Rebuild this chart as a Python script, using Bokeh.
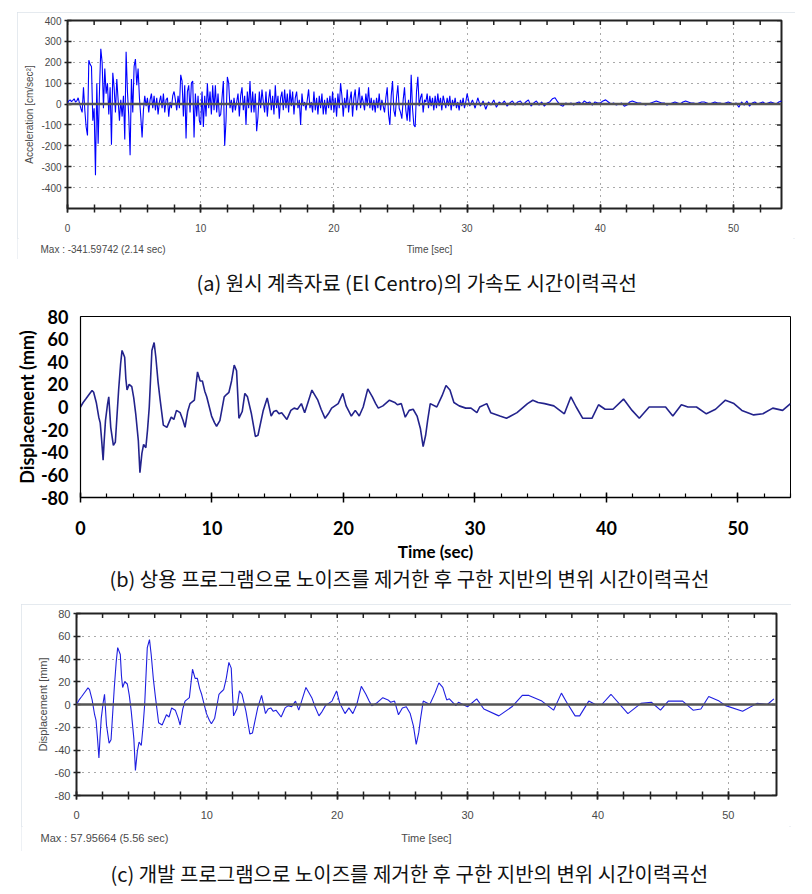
import numpy as np
from bokeh.plotting import figure
from bokeh.models import FixedTicker, Span, Range1d, Spacer
from bokeh.layouts import column, row
from bokeh.embed import file_html
from bokeh.resources import INLINE
from bokeh.core.properties import value

# ---------------- data ----------------
# (a) acceleration [cm/sec^2], 0-30 s sampled every 0.1 s
acc_dt_early = 0.1
acc_early = [
    5, 15, 20, 12, 18, 25, 10, 15, 30, 5,
    -20, -40, 80, -30, -110, -150, 210, 190, 180, -80,
    -20, -341, 100, -190, 60, 265, 200, -20, 170, 50,
    100, -50, 80, -195, 150, 80, -40, 120, 20, -80,
    20, -60, 40, -170, 250, 60, -60, -245, 120, -40,
    180, 215, 90, 170, 30, -60, -160, -30, 40, -10,
    30, -40, 20, 50, -20, 40, -30, 30, -50, 10,
    40, -20, 50, -40, 20, 30, -60, 10, -20, 40,
    60, 20, -30, 40, -20, 140, 110, -60, 90, -165,
    60, 90, -40, 100, 110, -160, 50, -60, 40, -80,
    -100, 60, -110, 40, -60, 100, -20, 60, -50, 90,
    -30, 90, -40, 50, -60, -50, 30, 110, -200, -80,
    130, 100, -20, 20, -40, 30, -30, 10, 50, -60,
    40, 80, -30, 40, -100, 60, -20, 110, -40, 60,
    -40, 50, -130, -60, 60, -20, 70, 10, -40, 60,
    -60, 20, 70, -30, 40, -50, 90, -20, 40, -70,
    30, 60, -30, 70, -20, 50, -40, 70, -10, 60,
    -50, 30, 60, -20, 20, -100, 50, -10, 10, -30,
    20, 70, -20, 10, -40, 60, -30, 30, -50, 40,
    -20, 50, -50, 20, -50, 30, -20, 40, -30, 60,
    -40, 30, -60, 50, -20, 100, 40, -60, 30, -20,
    70, -40, 20, 60, -60, 30, 70, -30, 20, 80,
    -20, 40, 10, -30, 50, -10, 80, -20, 30, -30,
    20, -40, 30, -20, 50, -30, 20, -10, -40, 30,
    80, -50, -100, 40, 110, -30, -60, 30, 90, -20,
    -40, -70, 20, 80, -30, -80, 20, -85, 140, -20,
    -100, -110, 60, 130, -10, 30, 50, -40, 20, 10,
    50, -20, 40, -10, 30, -30, 40, -20, 50, -10,
    30, -30, 40, 10, -20, 30, -10, 40, -30, 20,
    -10, 30, -20, 10, -30, 20, -10, 30, -20, 10,
]
# 30-54 s sampled every 0.2 s
acc_start_late = 30.0
acc_dt_late = 0.2
acc_late = [
    50, -10, 20, -20, 30, -10, 15, -25, 10, -5,
    20, -15, 10, 0, 15, -10, 5, 15, -5, 10,
    15, -5, 10, 20, -10, 5, 15, -5, 10, -10,
    5, 10, 25, 30, 10, -5, -10, 5, 0, 5,
    -5, 5, 10, 0, 15, 5, 10, -5, 10, 5,
    5, 15, 20, 10, 0, 5, -5, 0, 5, -10,
    -5, 10, 15, 10, 5, 5, 0, -5, 0, 5,
    10, 15, 10, 5, 5, -5, 0, 5, 10, 5,
    0, 10, 15, 10, 5, 5, 0, 5, 10, 10,
    5, 0, 5, 10, 5, 5, 0, 5, 10, 5,
    0, 5, -15, 10, -5, 15, -10, 5, 10, 0,
    5, 10, 0, 5, 10, 5, 0, 10, 15, 10, 5,
]

# displacement [mm] common early part (0-28.4 s)
disp_early_t = [0, 0.2, 0.4, 0.65, 0.88, 1.0, 1.2, 1.39, 1.5, 1.6, 1.72, 1.8, 1.9, 2.05, 2.15,
                2.3, 2.5, 2.65, 2.9, 3.05, 3.16, 3.36, 3.45, 3.54, 3.7, 3.9, 4.05, 4.2, 4.4,
                4.52, 4.67, 4.8, 4.97, 5.1, 5.23, 5.43, 5.6, 5.73, 5.9, 6.06, 6.3, 6.57, 6.9,
                7.1, 7.3, 7.58, 7.8, 7.95, 8.15, 8.33, 8.66, 8.9, 9.1, 9.27, 9.45, 9.6, 9.97,
                10.2, 10.35, 10.6, 10.93, 11.1, 11.29, 11.49, 11.69, 11.87, 12.05, 12.3,
                12.5, 12.7, 13.0, 13.3, 13.5, 13.9, 14.2, 14.5, 14.7, 14.9, 15.1, 15.3,
                15.7, 16.0, 16.25, 16.5, 16.8, 17.05, 17.3, 17.6, 17.8, 18.05, 18.3, 18.6,
                18.85, 19.1, 19.6, 19.95, 20.2, 20.6, 20.9, 21.2, 21.5, 21.85, 22.2, 22.45,
                22.65, 23.0, 23.5, 23.9, 24.1, 24.4, 24.7, 25.0, 25.3, 25.6, 25.85, 26.06,
                26.25, 26.4, 26.6, 27.1, 27.5, 27.8, 28.1, 28.4]
disp_early_v = [0, 4, 7, 11, 14.6, 13, 4, -9, -14, -28, -47, -30, -12, 2, 9,
                -18, -34, -31, 15, 38, 50, 44, 25, 15, 20, 18, 8, -6, -30,
                -58, -41, -33, -36, -20, 0, 50, 57, 44, 22, 6, -16, -18, -9,
                -11, -3, -5, -12, -18, -4, 3, 6, 31, 23, 23, 14, 9, -8,
                -14, -17, -12, 9, 11, 13, 23, 37, 32, -10, -4,
                12, 9, -6, -26, -25, -3, 8, -8, -4, -3, -6, -5,
                -11, -3, -1, -2, 3, -5, 4, 15, 11, 6, -2, -10,
                -6, -1, 3, 12, 1, -8, -3, -8, 0, 16, 9, 3,
                -1, 1, 6, 4, 2, 3, -9, -3, -2, -8, -19, -35,
                -25, -12, 3, 0, 10, 19, 15, 4]

# (b) commercial program, later part
disp_b_late_t = [28.8, 29.3, 29.7, 30.15, 30.36, 30.9, 31.2, 31.9, 32.4, 33.2, 34.0, 34.4,
                 34.8, 35.3, 36.0, 36.8, 37.3, 37.7, 38.2, 38.9, 39.4, 39.9, 40.5, 41.3,
                 41.95, 42.5, 43.25, 43.8, 44.5, 45.05, 45.7, 46.2, 46.85, 47.6, 48.3,
                 49.05, 49.7, 50.3, 51.2, 51.9, 52.65, 53.4, 54.0]
disp_b_late_v = [1, -1, -1, -5, 0, 3, -5, -8, -10, -5, 3, 6,
                 4, 3, 1, -6, 9, 0, -10, -10, 2, -2, -2, 7,
                 -3, -10, 0, 0, 0, -8, 2, 0, 0, -6, -2,
                 6, 3, -3, -7, -6, -1, -3, 3]

# (c) developed program, later part
disp_c_late_t = [28.6, 29.1, 29.3, 30.0, 30.7, 31.25, 32.4, 33.4, 34.2, 34.7, 35.7, 36.6,
                 37.2, 37.6, 38.25, 38.6, 39.3, 39.8, 40.3, 41.0, 42.3, 43.3, 44.1, 44.8,
                 45.4, 46.5, 47.3, 47.9, 48.5, 49.3, 49.8, 51.1, 52.2, 53.0, 53.5]
disp_c_late_v = [5, -1, 2, -2, 5, -4, -10, -2, 8, 8, 3, -5,
                 10, 2, -10, -10, 3, 0, 0, 9, -8, 1, 2, -5,
                 3, 3, -5, -4, 7, 3, -1, -6, 1, 0, 5]

x_ticks_major = [0, 10, 20, 30, 40, 50]
x_ticks_minor = list(range(0, 55, 2))
acc_ticks = [-400, -300, -200, -100, 0, 100, 200, 300, 400]
disp_ticks = [-80, -60, -40, -20, 0, 20, 40, 60, 80]

max_a = "Max : -341.59742 (2.14 sec)"
max_c = "Max : 57.95664 (5.56 sec)"
time_label_soft = "Time [sec]"
cap_a = "(a) 원시 계측자료 (El Centro)의 가속도 시간이력곡선"
cap_b = "(b) 상용 프로그램으로 노이즈를 제거한 후 구한 지반의 변위 시간이력곡선"
cap_c = "(c) 개발 프로그램으로 노이즈를 제거한 후 구한 지반의 변위 시간이력곡선"

acc_t = np.concatenate([np.arange(len(acc_early)) * acc_dt_early,
                        acc_start_late + np.arange(len(acc_late)) * acc_dt_late])
acc_v = np.array(acc_early + acc_late, dtype=float)

# ---------------- helpers ----------------
SOFT_FONT = "Liberation Sans"
SOFT_COL = "#4a4a4a"


def soft_panel(width, height, xmax, ymin, ymax, yticks, grid_y, ylabel,
               bl, br, bt, bb, fs, line_t, line_v, line_col):
    p = figure(width=width, height=height, x_range=Range1d(0, xmax), y_range=Range1d(ymin, ymax),
               output_backend="svg", toolbar_location=None,
               min_border_left=bl, min_border_right=br, min_border_top=bt, min_border_bottom=bb)
    p.outline_line_color = "#222222"
    p.outline_line_width = 2
    p.background_fill_color = "white"
    p.border_fill_color = "white"

    xa = p.xaxis[0]
    xa.ticker = FixedTicker(ticks=x_ticks_major, minor_ticks=x_ticks_minor)
    xa.axis_line_color = None
    xa.major_tick_in = 4
    xa.major_tick_out = 4
    xa.minor_tick_in = 4
    xa.minor_tick_out = 4
    xa.major_tick_line_color = "#222222"
    xa.minor_tick_line_color = "#222222"
    xa.major_tick_line_width = 1.5
    xa.minor_tick_line_width = 1.5
    xa.major_label_standoff = 11
    xa.major_label_text_font = SOFT_FONT
    xa.major_label_text_font_size = fs
    xa.major_label_text_color = SOFT_COL

    ya = p.yaxis[0]
    ya.ticker = FixedTicker(ticks=yticks)
    ya.major_label_overrides = {t: str(t) for t in yticks}
    ya.axis_line_color = None
    ya.major_tick_in = 4
    ya.major_tick_out = 3
    ya.minor_tick_in = 0
    ya.minor_tick_out = 0
    ya.major_tick_line_color = "#222222"
    ya.major_tick_line_width = 1.5
    ya.major_label_standoff = 3
    ya.major_label_text_font = SOFT_FONT
    ya.major_label_text_font_size = fs
    ya.major_label_text_color = SOFT_COL
    ya.axis_label = ylabel
    ya.axis_label_text_font = SOFT_FONT
    ya.axis_label_text_font_size = fs
    ya.axis_label_text_font_style = "normal"
    ya.axis_label_text_color = SOFT_COL
    ya.axis_label_standoff = 3

    # inward ticks along the top and right edges of the frame
    p.scatter(x_ticks_minor, [ymax] * len(x_ticks_minor), marker="dash", angle=np.pi / 2,
              size=9, line_color="#222222", line_width=1.5)
    p.scatter([xmax] * len(yticks), yticks, marker="dash", size=9,
              line_color="#222222", line_width=1.5)

    p.xgrid.ticker = FixedTicker(ticks=x_ticks_major[1:])
    p.ygrid.ticker = FixedTicker(ticks=grid_y)
    for g in (p.xgrid[0], p.ygrid[0]):
        g.grid_line_color = "#555555"
        g.grid_line_dash = "1 5"
        g.grid_line_width = 1

    p.add_layout(Span(location=0, dimension="width", line_color="#555555", line_width=2.5))
    p.line(line_t, line_v, line_color=line_col, line_width=1.1)
    return p


def footer(width, height, maxtext, max_x, time_x, ty, fs):
    f = figure(width=width, height=height, x_range=Range1d(0, width), y_range=Range1d(0, height),
               output_backend="svg", toolbar_location=None, x_axis_type=None, y_axis_type=None,
               min_border=0, outline_line_color=None)
    f.grid.visible = False
    f.text(x=[max_x], y=[ty], text=[maxtext], text_font=value(SOFT_FONT), text_font_size=fs,
           text_align="left", text_baseline="middle", text_color=SOFT_COL)
    f.text(x=[time_x], y=[ty], text=[time_label_soft], text_font=value(SOFT_FONT),
           text_font_size=fs, text_align="center", text_baseline="middle", text_color=SOFT_COL)
    # wrap in a row so its frame is not aligned with the plot above
    return row(f)


def caption(text, height, left, cy):
    c = figure(width=804, height=height, x_range=Range1d(0, 804), y_range=Range1d(0, height),
               output_backend="svg", toolbar_location=None, x_axis_type=None, y_axis_type=None,
               min_border=0, outline_line_color=None)
    c.grid.visible = False
    c.text(x=[left], y=[cy], text=[text], text_font=value("Noto Sans CJK KR"),
           text_font_size="20px", text_align="left", text_baseline="middle", text_color="#111111")
    return c


BOX = {"outline": "2px solid #dde3ea", "outline-offset": "-2px", "background-color": "white"}

# ---------------- panel (a) ----------------
pa = soft_panel(778, 226, 53.6, -500, 400, acc_ticks, [-400, -300, -200, -100, 100, 200, 300],
                "Acceleration [cm/sec²]", 50, 14, 8, 30, "10px", acc_t, acc_v, "#0000ff")
fa = footer(778, 21, max_a, 23, 412, 10, "10px")
panel_a = column(pa, fa, styles=BOX)

# ---------------- panel (b) ----------------
pb = figure(width=796, height=265, x_range=Range1d(0, 54), y_range=Range1d(-80, 80),
            output_backend="svg", toolbar_location=None,
            min_border_left=72, min_border_right=14, min_border_top=16, min_border_bottom=68)
pb.outline_line_color = "black"
pb.outline_line_width = 1
pb.grid.visible = False
XF = "Lato"
xb = pb.xaxis[0]
xb.ticker = FixedTicker(ticks=x_ticks_major, minor_ticks=x_ticks_minor)
xb.axis_line_color = "black"
xb.axis_line_width = 1.5
xb.major_tick_in = 5
xb.major_tick_out = 5
xb.minor_tick_in = 4
xb.minor_tick_out = 0
xb.major_tick_line_color = "black"
xb.minor_tick_line_color = "black"
xb.major_tick_line_width = 1.5
xb.minor_tick_line_width = 1.2
xb.major_label_standoff = 18
xb.major_label_text_font = XF
xb.major_label_text_font_style = "bold"
xb.major_label_text_font_size = "18px"
xb.major_label_text_color = "black"
xb.axis_label = "Time (sec)"
xb.axis_label_text_font = XF
xb.axis_label_text_font_style = "bold"
xb.axis_label_text_font_size = "17px"
xb.axis_label_text_color = "black"
xb.axis_label_standoff = 3
yb = pb.yaxis[0]
yb.ticker = FixedTicker(ticks=disp_ticks)
yb.major_label_overrides = {t: str(t) for t in disp_ticks}
yb.axis_line_color = "black"
yb.axis_line_width = 1.2
yb.major_tick_in = 0
yb.major_tick_out = 0
yb.minor_tick_in = 0
yb.minor_tick_out = 0
yb.major_label_standoff = 12
yb.major_label_text_font = XF
yb.major_label_text_font_style = "bold"
yb.major_label_text_font_size = "18px"
yb.major_label_text_color = "black"
yb.axis_label = "Displacement (mm)"
yb.axis_label_text_font = XF
yb.axis_label_text_font_style = "bold"
yb.axis_label_text_font_size = "18px"
yb.axis_label_text_color = "black"
yb.axis_label_standoff = 0
pb.line(disp_early_t + disp_b_late_t, disp_early_v + disp_b_late_v,
        line_color="#23238c", line_width=1.6)

# ---------------- panel (c) ----------------
pc = soft_panel(770, 222, 53.7, -80, 80, disp_ticks, [-60, -40, -20, 20, 40, 60],
                "Displacement [mm]", 55, 15, 9, 31, "11px",
                disp_early_t + disp_c_late_t, disp_early_v + disp_c_late_v, "#1f1fe0")
fc = footer(770, 25, max_c, 19, 405, 14, "11px")
panel_c = column(pc, fc, styles=BOX)

layout = column(
    Spacer(width=804, height=12),
    row(Spacer(width=17, height=247), panel_a),
    caption(cap_a, 41, 196, 18),
    row(Spacer(width=8, height=265), pb),
    caption(cap_b, 39, 109, 26),
    row(Spacer(width=21, height=247), panel_c),
    caption(cap_c, 42, 110, 20),
)

open("out.html", "w").write(file_html(layout, INLINE))
